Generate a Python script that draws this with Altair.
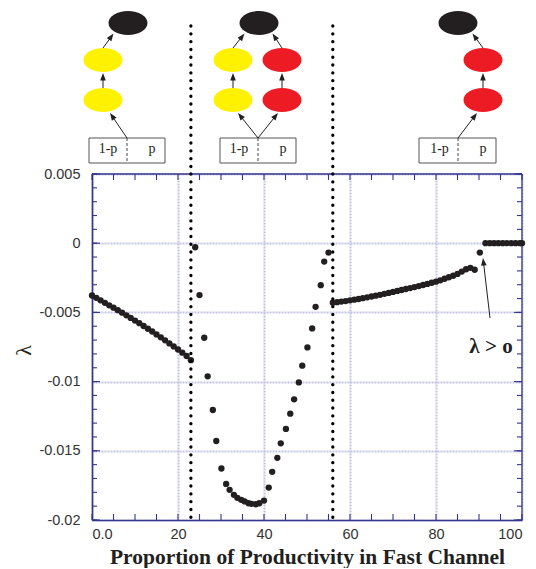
import math
import altair as alt
import pandas as pd

# ------------------------------------------------------------------ data
seg1_x = [0, 1, 2, 3, 4, 5, 6, 7, 8, 9, 10, 11, 12, 13, 14, 15, 16, 17, 18, 19, 20, 21, 22, 23]
seg1_y = [-0.00378, -0.00395, -0.00413, -0.00431, -0.00449, -0.00466, -0.00484, -0.00502,
          -0.00521, -0.00540, -0.00559, -0.00578, -0.00598, -0.00618, -0.00638, -0.00659,
          -0.00680, -0.00702, -0.00724, -0.00746, -0.00768, -0.00791, -0.00815, -0.00845]

seg2_x = [24.0, 25.0, 26.1, 26.9, 28.1, 28.9, 30.1, 31.2, 32.0, 33.0, 33.8, 34.7, 35.5, 36.4,
          37.1, 38.1, 38.9, 40.0, 41.1, 41.9, 43.1, 43.9, 45.1, 46.1, 47.0, 48.1, 48.9, 50.1,
          51.2, 52.0, 53.2, 54.0, 55.0]
seg2_y = [-0.00029, -0.00375, -0.00683, -0.00962, -0.01205, -0.01429, -0.01628, -0.01739,
          -0.01782, -0.01818, -0.01840, -0.01854, -0.01866, -0.01879, -0.01883, -0.01886,
          -0.01879, -0.01860, -0.01766, -0.01652, -0.01551, -0.01446, -0.01342, -0.01232,
          -0.01128, -0.01006, -0.00885, -0.00753, -0.00616, -0.00460, -0.00303, -0.00133,
          -0.00068]

seg3_x = [56, 57, 58, 59, 60, 61, 62, 63, 64, 65, 66, 67, 68, 69, 70, 71, 72, 73, 74, 75,
          76, 77, 78, 79, 80, 81, 82, 83, 84, 85, 86, 87, 88, 89]
seg3_y = [-0.00430, -0.00426, -0.00422, -0.00418, -0.00413, -0.00408, -0.00403, -0.00397,
          -0.00391, -0.00385, -0.00379, -0.00373, -0.00366, -0.00359, -0.00352, -0.00345,
          -0.00338, -0.00331, -0.00324, -0.00317, -0.00310, -0.00302, -0.00294, -0.00286,
          -0.00278, -0.00268, -0.00257, -0.00246, -0.00235, -0.00222, -0.00205, -0.00188,
          -0.00178, -0.00192]

jump_x = [90.2]
jump_y = [-0.00068]

zero_x = [91.5, 92.5, 93.5, 94.5, 95.5, 96.5, 97.5, 98.5, 99.5, 100.0]
zero_y = [0.0, 0.0, 0.0, 0.0, 0.0, 0.0, 0.0, 0.0, 0.0, 0.0]

boundaries = [23.0, 56.0]

x_major = [0, 20, 40, 60, 80, 100]
x_minor = [0, 5, 10, 15, 20, 25, 30, 35, 40, 45, 50, 55, 60, 65, 70, 75, 80, 85, 90, 95, 100]
y_major = [0.005, 0, -0.005, -0.01, -0.015, -0.02]
y_minor = [0.005, 0.004, 0.003, 0.002, 0.001, 0, -0.001, -0.002, -0.003, -0.004, -0.005,
           -0.006, -0.007, -0.008, -0.009, -0.01, -0.011, -0.012, -0.013, -0.014, -0.015,
           -0.016, -0.017, -0.018, -0.019, -0.02]

x_title = "Proportion of Productivity in Fast Channel"
y_title = "λ"
note_text = "λ > o"
box_left, box_right = "1-p", "p"

# ------------------------------------------------------------------ layout / style
W, H_TOP, H = 430, 165, 346
PX_LEFT, PX_PER_X = 92.0, 4.3          # diagram placement helpers
Y0_PX, PX_PER_Y = 242.2, 13840.0
NAVY = "#34358f"
GRID = "#c3c3e4"
INK = "#231f20"
YELLOW = "#fff200"
RED = "#ed1c24"
SERIF = "Liberation Serif"
SANS = "Liberation Sans"
ELLIPSE = ("M-1,0C-1,-0.34,-0.552,-0.61,0,-0.61C0.552,-0.61,1,-0.34,1,0"
           "C1,0.34,0.552,0.61,0,0.61C-0.552,0.61,-1,0.34,-1,0Z")
HEAD = "M0,0L0.6,1.6L-0.6,1.6Z"


def px2x(px):
    return (px - PX_LEFT) / PX_PER_X


def py2y(py):
    return -(py - Y0_PX) / PX_PER_Y


def arrow(x0, y0, x1, y1):
    dx, dy = x1 - x0, y1 - y0
    L = math.hypot(dx, dy)
    ang = math.degrees(math.atan2(dx, -dy)) % 360
    ex, ey = x1 - dx / L * 4, y1 - dy / L * 4
    return (x0, y0, ex, ey), (x1, y1, ang)


# ------------------------------------------------------------------ main panel
df = pd.DataFrame({
    "x": seg1_x + seg2_x + seg3_x + jump_x + zero_x,
    "y": seg1_y + seg2_y + seg3_y + jump_y + zero_y,
})

xs = alt.Scale(domain=[0, 100], nice=False, zero=False)
ys = alt.Scale(domain=[-0.02, 0.005], nice=False, zero=False)

pts = alt.Chart(df).mark_circle(size=40, color=INK, opacity=1).encode(
    x=alt.X("x:Q", scale=xs, axis=alt.Axis(
        orient="bottom", values=x_major,
        labelExpr="datum.value == 0 ? '0.0' : '' + datum.value",
        grid=True, gridColor=GRID, gridWidth=2, gridDash=[2, 1],
        ticks=False, tickSize=0, domain=True, domainColor=NAVY, domainWidth=1.6,
        labelFont=SANS, labelFontSize=14.5, labelColor="#333333", labelPadding=7,
        title=x_title, titleFont=SERIF, titleFontSize=21.5, titleFontWeight="bold",
        titleColor=INK, titleY=43, titleBaseline="alphabetic")),
    y=alt.Y("y:Q", scale=ys, axis=alt.Axis(
        orient="left", values=y_major, labelExpr="'' + datum.value",
        grid=True, gridColor=GRID, gridWidth=2, gridDash=[2, 1],
        ticks=False, tickSize=0, domain=True, domainColor=NAVY, domainWidth=1.6,
        labelFont=SANS, labelFontSize=14.5, labelColor="#333333", labelPadding=12,
        title=y_title, titleFont=SERIF, titleFontSize=22, titleFontWeight="normal",
        titleColor=INK, titleAngle=270, titleX=-69, titleY=176,
        titleAlign="center", titleBaseline="middle")),
)

XM = lambda: alt.X("x:Q", scale=xs, axis=None)
YM = lambda: alt.Y("y:Q", scale=ys, axis=None)

# frame (top and right edges) and inward ticks, drawn through the scales
frame_top = alt.Chart(pd.DataFrame({"y": [0.005]})).mark_rule(
    color=NAVY, strokeWidth=1.3).encode(y=YM())
frame_right = alt.Chart(pd.DataFrame({"x": [100]})).mark_rule(
    color=NAVY, strokeWidth=1.3).encode(x=XM())

xt_df = pd.DataFrame({"x": x_minor})
yt_df = pd.DataFrame({"y": y_minor})
ymaj_df = pd.DataFrame({"y": y_major})
tk = dict(color=NAVY, strokeWidth=1.1)
tick_bottom = alt.Chart(xt_df).mark_rule(**tk).encode(
    x=XM(), y=alt.value(H), y2=alt.value(H - 6))
tick_top = alt.Chart(xt_df).mark_rule(**tk).encode(
    x=XM(), y=alt.value(0), y2=alt.value(6))
tick_left = alt.Chart(yt_df).mark_rule(**tk).encode(
    y=YM(), x=alt.value(0), x2=alt.value(5))
tick_right = alt.Chart(yt_df).mark_rule(**tk).encode(
    y=YM(), x=alt.value(W), x2=alt.value(W - 5))
tick_left_major = alt.Chart(ymaj_df).mark_rule(**tk).encode(
    y=YM(), x=alt.value(0), x2=alt.value(8))
tick_right_major = alt.Chart(ymaj_df).mark_rule(**tk).encode(
    y=YM(), x=alt.value(W), x2=alt.value(W - 8))

bdf = pd.DataFrame({"x": boundaries})
dots_main = alt.Chart(bdf).mark_rule(color="black", strokeWidth=3.3, strokeCap="round",
                                     strokeDash=[0.1, 7.7]).encode(x=XM())

(sh, hd) = arrow(490, 317, 483, 257)
note_shaft = pd.DataFrame({"x": [px2x(sh[0])], "y": [py2y(sh[1])],
                           "x2": [px2x(sh[2])], "y2": [py2y(sh[3])]})
note_head = pd.DataFrame({"x": [px2x(hd[0])], "y": [py2y(hd[1])], "a": [hd[2]]})
note_lab = pd.DataFrame({"x": [px2x(491)], "y": [py2y(346)], "t": [note_text]})

n_shaft = alt.Chart(note_shaft).mark_rule(color=INK, strokeWidth=1).encode(
    x=XM(), y=YM(), x2="x2:Q", y2="y2:Q")
n_head = alt.Chart(note_head).mark_point(shape=HEAD, filled=True, size=88, color=INK,
                                         opacity=1).encode(
    x=XM(), y=YM(), angle=alt.Angle("a:Q", scale=None))
n_text = alt.Chart(note_lab).mark_text(font=SERIF, fontSize=21, fontWeight="bold",
                                       color=INK, baseline="middle").encode(
    x=XM(), y=YM(), text="t:N")

main = alt.layer(frame_top, frame_right, tick_bottom, tick_top, tick_left, tick_right,
                 tick_left_major, tick_right_major, pts, dots_main, n_shaft, n_head,
                 n_text).resolve_axis(x="independent", y="independent").properties(
    width=W, height=H)

# ------------------------------------------------------------------ diagram panel
ell = [(128, 22, INK), (103, 59, YELLOW), (103, 99, YELLOW),
       (259, 22, INK), (233, 59, YELLOW), (233, 99, YELLOW), (282, 59, RED), (282, 99, RED),
       (458, 22, INK), (483, 59, RED), (483, 99, RED)]
arrows_px = [(127, 137, 110, 112), (103, 87, 103, 72), (103, 47, 113.5, 32.5),
             (258, 137, 238, 112), (258, 137, 278, 112), (233, 87, 233, 72),
             (282, 87, 282, 72), (233, 47, 244.5, 32.5), (282, 47, 272.5, 32.5),
             (458, 137, 477, 112), (483, 87, 483, 72), (483, 47, 472.5, 32.5)]
boxes_px = [(89, 165, 127), (220, 296, 258), (419, 496, 458)]
labels_px = [(108, box_left), (152, box_right), (239, box_left), (283, box_right),
             (439.5, box_left), (483, box_right)]

xt = alt.Scale(domain=[0, 100], nice=False, zero=False)
yt = alt.Scale(domain=[8, 8 + H_TOP], nice=False, zero=False, reverse=True)

ell_df = pd.DataFrame({"x": [px2x(e[0]) for e in ell], "y": [e[1] for e in ell],
                       "c": [e[2] for e in ell]})
shafts, heads = [], []
for a in arrows_px:
    s, h = arrow(*a)
    shafts.append({"x": px2x(s[0]), "y": s[1], "x2": px2x(s[2]), "y2": s[3]})
    heads.append({"x": px2x(h[0]), "y": h[1], "a": h[2]})
sh_df = pd.DataFrame(shafts)
hd_df = pd.DataFrame(heads)
box_df = pd.DataFrame({"x": [px2x(b[0]) for b in boxes_px], "x2": [px2x(b[1]) for b in boxes_px],
                       "y": [137] * 3, "y2": [162] * 3})
div_df = pd.DataFrame({"x": [px2x(b[2]) for b in boxes_px], "y": [137] * 3, "y2": [162] * 3})
lab_df = pd.DataFrame({"x": [px2x(l[0]) for l in labels_px], "y": [148] * 6,
                       "t": [l[1] for l in labels_px]})
dot_top = pd.DataFrame({"x": boundaries, "y": [25, 25], "y2": [8 + H_TOP, 8 + H_TOP]})

X = lambda: alt.X("x:Q", scale=xt, axis=None)
Y = lambda: alt.Y("y:Q", scale=yt, axis=None)

t_ell = alt.Chart(ell_df).mark_point(shape=ELLIPSE, filled=True, size=1521, opacity=1,
                                     strokeWidth=0).encode(
    x=X(), y=Y(), color=alt.Color("c:N", scale=None))
t_sh = alt.Chart(sh_df).mark_rule(color=INK, strokeWidth=1).encode(
    x=X(), y=Y(), x2="x2:Q", y2="y2:Q")
t_hd = alt.Chart(hd_df).mark_point(shape=HEAD, filled=True, size=88, color=INK,
                                   opacity=1).encode(
    x=X(), y=Y(), angle=alt.Angle("a:Q", scale=None))
t_box = alt.Chart(box_df).mark_rect(fill="white", stroke="#555555", strokeWidth=1).encode(
    x=X(), x2="x2:Q", y=Y(), y2="y2:Q")
t_div = alt.Chart(div_df).mark_rule(color="#444444", strokeWidth=1, strokeDash=[3, 2]).encode(
    x=X(), y=Y(), y2="y2:Q")
t_lab = alt.Chart(lab_df).mark_text(font=SERIF, fontSize=14, color=INK,
                                    baseline="middle").encode(
    x=X(), y=Y(), text="t:N")
t_dot = alt.Chart(dot_top).mark_rule(color="black", strokeWidth=3.3, strokeCap="round",
                                     strokeDash=[0.1, 7.7]).encode(
    x=X(), y=Y(), y2="y2:Q")

top = alt.layer(t_dot, t_box, t_div, t_lab, t_sh, t_hd, t_ell).properties(
    width=W, height=H_TOP)

chart = alt.vconcat(top, main, spacing=0, bounds="flush").configure_view(
    stroke="transparent").properties(
    padding={"left": 3, "top": 0, "right": 0, "bottom": 0})

chart.save("out.html", embed_options={"renderer": "svg", "actions": False})
